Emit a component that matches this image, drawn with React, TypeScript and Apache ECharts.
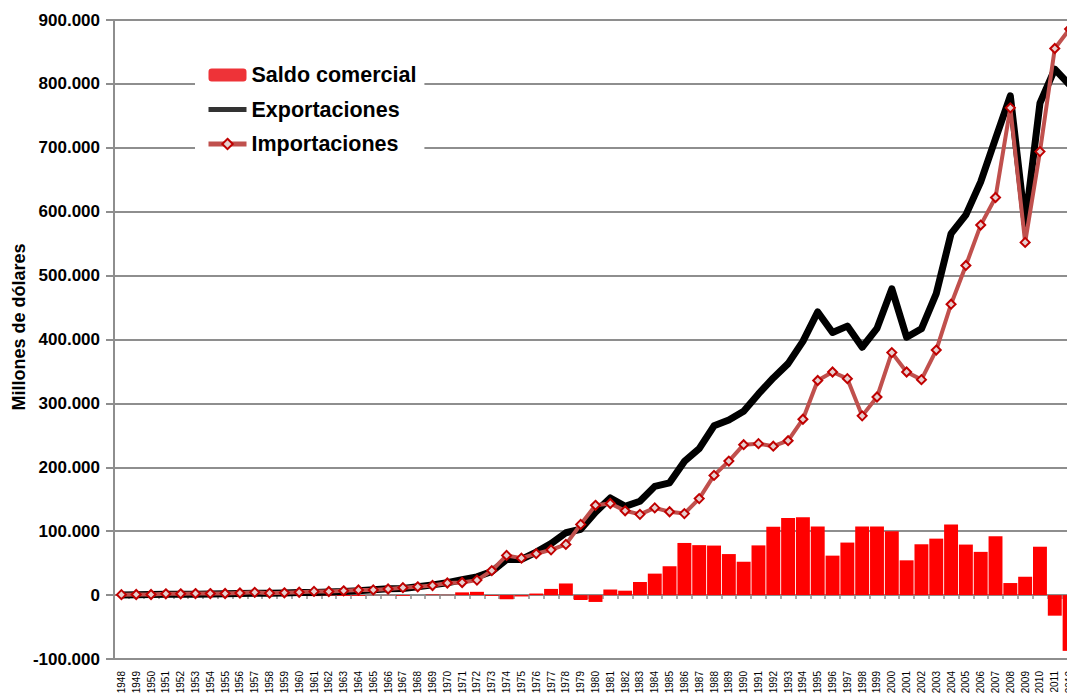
import React, { useEffect, useRef } from "react";
import * as echarts from "echarts";

const years = [
  "1948", "1949", "1950", "1951", "1952", "1953", "1954", "1955", "1956", "1957",
  "1958", "1959", "1960", "1961", "1962", "1963", "1964", "1965", "1966", "1967",
  "1968", "1969", "1970", "1971", "1972", "1973", "1974", "1975", "1976", "1977",
  "1978", "1979", "1980", "1981", "1982", "1983", "1984", "1985", "1986", "1987",
  "1988", "1989", "1990", "1991", "1992", "1993", "1994", "1995", "1996", "1997",
  "1998", "1999", "2000", "2001", "2002", "2003", "2004", "2005", "2006", "2007",
  "2008", "2009", "2010", "2011", "2012",
];

const exportaciones = [
  260, 510, 820, 1350, 1270, 1280, 1630, 2010, 2500, 2860,
  2880, 3460, 4050, 4240, 4920, 5450, 6670, 8450, 9780, 10440,
  12970, 15990, 19320, 24020, 28590, 36930, 55540, 55750, 67230, 80500,
  97540, 103030, 129810, 152030, 138830, 146930, 170110, 175640, 209150, 229220,
  264860, 273930, 287580, 314790, 339890, 362240, 397000, 443120, 410900, 420960,
  387930, 417440, 479250, 403500, 416730, 471820, 565680, 594940, 646730, 714330,
  781410, 580720, 769770, 823180, 798570,
];

const importaciones = [
  680, 900, 970, 1990, 2030, 2410, 2400, 2470, 3230, 4280,
  3030, 3600, 4490, 5810, 5640, 6740, 7940, 8170, 9520, 11660,
  12990, 15020, 18880, 19710, 23470, 38310, 62110, 57860, 64800, 70810,
  79340, 110670, 140530, 143290, 131930, 126390, 136500, 130490, 127550, 151030,
  187350, 209720, 235370, 237000, 233020, 241620, 275240, 335880, 349150, 338750,
  280480, 310000, 379510, 349090, 337190, 383450, 455250, 515870, 579060, 622240,
  762530, 551980, 694060, 855380, 885840,
];

const saldoComercial = [
  -420, -390, -150, -640, -760, -1130, -770, -460, -730, -1420,
  -150, -140, -440, -1570, -720, -1290, -1270, 280, 260, -1220,
  -20, 970, 440, 4310, 5120, -1380, -6570, -2110, 2430, 9690,
  18200, -7640, -10720, 8740, 6900, 20540, 33610, 45150, 81600, 78190,
  77510, 64210, 52210, 77790, 106870, 120620, 121770, 107240, 61750, 82210,
  107450, 107440, 99740, 54410, 79540, 88370, 110430, 79070, 67670, 92090,
  18880, 28740, 75710, -32200, -87270,
];

const Y_MIN = -100000;
const Y_MAX = 900000;
const Y_STEP = 100000;

const FONT = "'Liberation Sans', Arial, Helvetica, sans-serif";
const GRID_GRAY = "#8E8E8E";

function fmtThousands(v: number): string {
  const neg = v < 0;
  const s = Math.abs(Math.round(v)).toString();
  const out = s.replace(/\B(?=(\d{3})+(?!\d))/g, ".");
  return (neg ? "-" : "") + out;
}

export default function App() {
  const ref = useRef<HTMLDivElement>(null);

  useEffect(() => {
    if (!ref.current) return;
    const chart = echarts.init(ref.current, undefined, { renderer: "svg" });
    chart.setOption({
      animation: false,
      backgroundColor: "#ffffff",
      grid: { left: 114, top: 20, width: 963, height: 639 },
      legend: {
        orient: "vertical",
        left: 195,
        top: 57,
        padding: [7, 8, 8, 11],
        backgroundColor: "#ffffff",
        itemWidth: 38,
        itemHeight: 13,
        itemGap: 12.5,
        textStyle: { fontFamily: FONT, fontWeight: "bold", fontSize: 21.5, color: "#000" },
        data: [
          { name: "Saldo comercial", itemStyle: { color: "#EE3338" } },
          {
            name: "Exportaciones",
            itemStyle: { color: "rgba(0,0,0,0)", borderWidth: 0 },
            lineStyle: { color: "#333333", width: 5 },
          },
          {
            name: "Importaciones",
            lineStyle: { color: "#C0504D", width: 5 },
          },
        ],
      },
      xAxis: [
        {
          type: "category",
          data: years,
          position: "bottom",
          boundaryGap: true,
          axisLine: { show: false, onZero: false },
          axisTick: { show: false },
          axisLabel: {
            interval: 0,
            rotate: 90,
            margin: 12,
            fontFamily: FONT,
            fontSize: 10,
            color: "#000",
          },
          splitLine: { show: false },
        },
        {
          type: "category",
          data: years,
          position: "bottom",
          boundaryGap: true,
          axisLine: { show: true, onZero: true, lineStyle: { color: GRID_GRAY, width: 2 } },
          axisTick: { show: true, length: 4, interval: 0, lineStyle: { color: GRID_GRAY, width: 1.5 } },
          axisLabel: { show: false },
          splitLine: { show: false },
        },
      ],
      yAxis: {
        type: "value",
        min: Y_MIN,
        max: Y_MAX,
        interval: Y_STEP,
        axisLine: { show: true, lineStyle: { color: GRID_GRAY, width: 2 } },
        axisTick: { show: true, length: 8, lineStyle: { color: GRID_GRAY, width: 2 } },
        axisLabel: {
          margin: 14,
          fontFamily: FONT,
          fontWeight: "bold",
          fontSize: 17,
          color: "#000",
          formatter: (v: number) => fmtThousands(v),
        },
        splitLine: { show: true, lineStyle: { color: GRID_GRAY, width: 2 } },
      },
      graphic: [
        {
          type: "text",
          x: 19,
          y: 327,
          rotation: Math.PI / 2,
          style: {
            text: "Millones de dólares",
            font: "bold 18px " + FONT,
            fill: "#000",
            textAlign: "center",
            textVerticalAlign: "middle",
          },
        },
      ],
      series: [
        {
          name: "Saldo comercial",
          type: "bar",
          data: saldoComercial,
          barCategoryGap: "6%",
          itemStyle: { color: "#FF0000" },
          z: 1,
        },
        {
          name: "Exportaciones",
          type: "line",
          data: exportaciones,
          showSymbol: false,
          symbol: "none",
          lineStyle: { color: "#000000", width: 7, join: "round" },
          z: 3,
        },
        {
          name: "Importaciones",
          type: "line",
          data: importaciones,
          symbol: "diamond",
          symbolSize: 9,
          lineStyle: { color: "#C0504D", width: 4, join: "round" },
          itemStyle: { color: "#E6D0D0", borderColor: "#C00000", borderWidth: 2 },
          z: 4,
        },
      ],
    });
    return () => chart.dispose();
  }, []);

  return (
    <div
      ref={ref}
      style={{ position: "fixed", left: 0, top: 0, width: 1090, height: 705 }}
    />
  );
}
